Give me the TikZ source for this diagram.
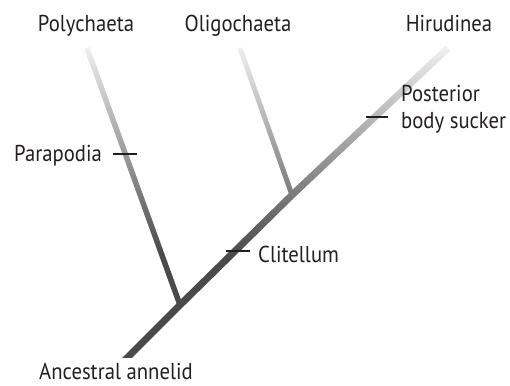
\documentclass[tikz,border=0pt]{standalone}
\usepackage{fontspec}
\setmainfont{PT Sans}[FakeStretch=0.9]
\usetikzlibrary{fadings}
\tikzfading[name=wfade, top color=transparent!5, bottom color=transparent!100]
\definecolor{branch}{HTML}{4A4A4A}
\definecolor{ink}{HTML}{231F20}
\begin{document}
\begin{tikzpicture}[x=1pt,y=-1pt,
  lbl/.style={font=\fontsize{23}{27}\selectfont, inner sep=0pt, text=ink},
  br/.style={draw=branch, line width=6pt},
  tickmark/.style={draw=ink, line width=1.1pt}]
\useasboundingbox (0,0) rectangle (510,385);
\coordinate (root) at (122,363);
\coordinate (p) at (180,305);
\coordinate (o) at (292,195);
\coordinate (h) at (448,48);
\coordinate (pt) at (87,48);
\coordinate (ot) at (240,48);
\begin{scope}
\clip (0,0) rectangle (510,357);
\draw[br, line width=5.5pt] (p) -- (pt);
\draw[br, line width=5pt] (o) -- (ot);
\draw[br, line width=7pt, line join=round] (root) -- (p) -- (o) -- (h);
\end{scope}
\fill[white, path fading=wfade] (0,40) rectangle (510,255);
% ticks
\coordinate (tp) at (125,154);
\coordinate (tc) at (238,251);
\coordinate (ts) at (377,117);
\draw[tickmark] ([xshift=-12pt]tp) -- ([xshift=12pt]tp);
\draw[tickmark] ([xshift=-12pt]tc) -- ([xshift=12pt]tc);
\draw[tickmark] ([xshift=-11pt]ts) -- ([xshift=11pt]ts);
% labels
\node[lbl, anchor=base] (poly) at (86,32) {Polychaeta};
\node[lbl, anchor=base] (oligo) at (238,32) {Oligochaeta};
\node[lbl, anchor=base] (hiru) at (449,32) {Hirudinea};
\node[lbl, anchor=base east] (para) at (102,161) {Parapodia};
\node[lbl, anchor=base west] (clit) at (258,262) {Clitellum};
\node[lbl, anchor=base west, align=left] (post) at (401,128) {Posterior\\body sucker};
\node[lbl, anchor=base west] (anc) at (39,379) {Ancestral annelid};
\end{tikzpicture}
\end{document}
